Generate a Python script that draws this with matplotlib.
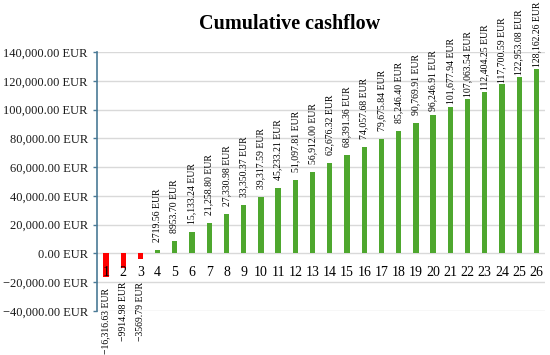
import matplotlib
matplotlib.use("Agg")
from matplotlib import pyplot as plt
from matplotlib.ticker import FuncFormatter

# annees et cashflow cumule (EUR)
years = list(range(1, 27))
cashflow = [-16316.63, -9914.98, -3569.79, 2719.56, 8953.70, 15133.24,
            21258.80, 27330.98, 33350.37, 39317.59, 45233.21, 51097.81,
            56912.00, 62676.32, 68391.36, 74057.68, 79675.84, 85246.40,
            90769.91, 96246.91, 101677.94, 107063.54, 112404.25, 117700.59,
            122953.08, 128162.26]
labels = ['\u221216,316.63 EUR', '\u22129914.98 EUR', '\u22123569.79 EUR',
          '2719.56 EUR', '8953.70 EUR', '15,133.24 EUR', '21,258.80 EUR',
          '27,330.98 EUR', '33,350.37 EUR', '39,317.59 EUR', '45,233.21 EUR',
          '51,097.81 EUR', '56,912.00 EUR', '62,676.32 EUR', '68,391.36 EUR',
          '74,057.68 EUR', '79,675.84 EUR', '85,246.40 EUR', '90,769.91 EUR',
          '96,246.91 EUR', '101,677.94 EUR', '107,063.54 EUR', '112,404.25 EUR',
          '117,700.59 EUR', '122,953.08 EUR', '128,162.26 EUR']

# ecart (px) entre le haut de la barre et l'etiquette
gap_px = [8] * 19 + [4, 3.5, 2, 2, 1.5, 2, 2.5]

plt.rcParams['font.family'] = ['Liberation Serif', 'DejaVu Serif']

fig = plt.figure(figsize=(5.5, 3.55), dpi=100)
ax = fig.add_axes([97 / 550, 1 - 311 / 355, 448 / 550, 259 / 355])

colors = ['#ff0000' if v < 0 else '#4ea72e' for v in cashflow]
ax.bar(years, cashflow, width=0.31, color=colors, zorder=3)

ax.set_xlim(0.48, 26.5)
ax.set_ylim(-40000, 140000)
ax.set_yticks(range(-40000, 140001, 20000))
ax.yaxis.set_major_formatter(FuncFormatter(lambda v, p: f"{v:,.2f} EUR".replace('-', '\u2212')))
ax.tick_params(axis='y', labelsize=9, length=3, width=1, color='#4a7a96', pad=3.5,
               labelcolor='#1a1a1a')
ax.set_xticks([])
ax.grid(axis='y', color='#d9d9d9', linewidth=1, zorder=0)
for s in ['top', 'right', 'bottom']:
    ax.spines[s].set_visible(False)
ax.spines['left'].set_color('#4a7a96')
ax.spines['left'].set_linewidth(1.2)

px = 0.72  # points par pixel a 100 dpi
for i, (x, v) in enumerate(zip(years, cashflow)):
    # numero de l'annee juste sous la ligne zero
    ax.annotate(str(x), (x, 0), xytext=(0, -19 * px), textcoords='offset points',
                ha='center', va='center', fontsize=10, zorder=4)
    if v >= 0:
        ax.annotate(labels[i], (x, v), xytext=(0, gap_px[i] * px),
                    textcoords='offset points', rotation=90,
                    ha='center', va='bottom', fontsize=7)
    else:
        ax.annotate(labels[i], (x, min(v, -12000)), xytext=(0, -11 * px),
                    textcoords='offset points', rotation=90,
                    ha='center', va='top', fontsize=7)

fig.text(289.5 / 550, 1 - 24 / 355, 'Cumulative cashflow', ha='center', va='center',
         fontsize=14.5, fontweight='bold')

fig.savefig('out.png', dpi=100)
